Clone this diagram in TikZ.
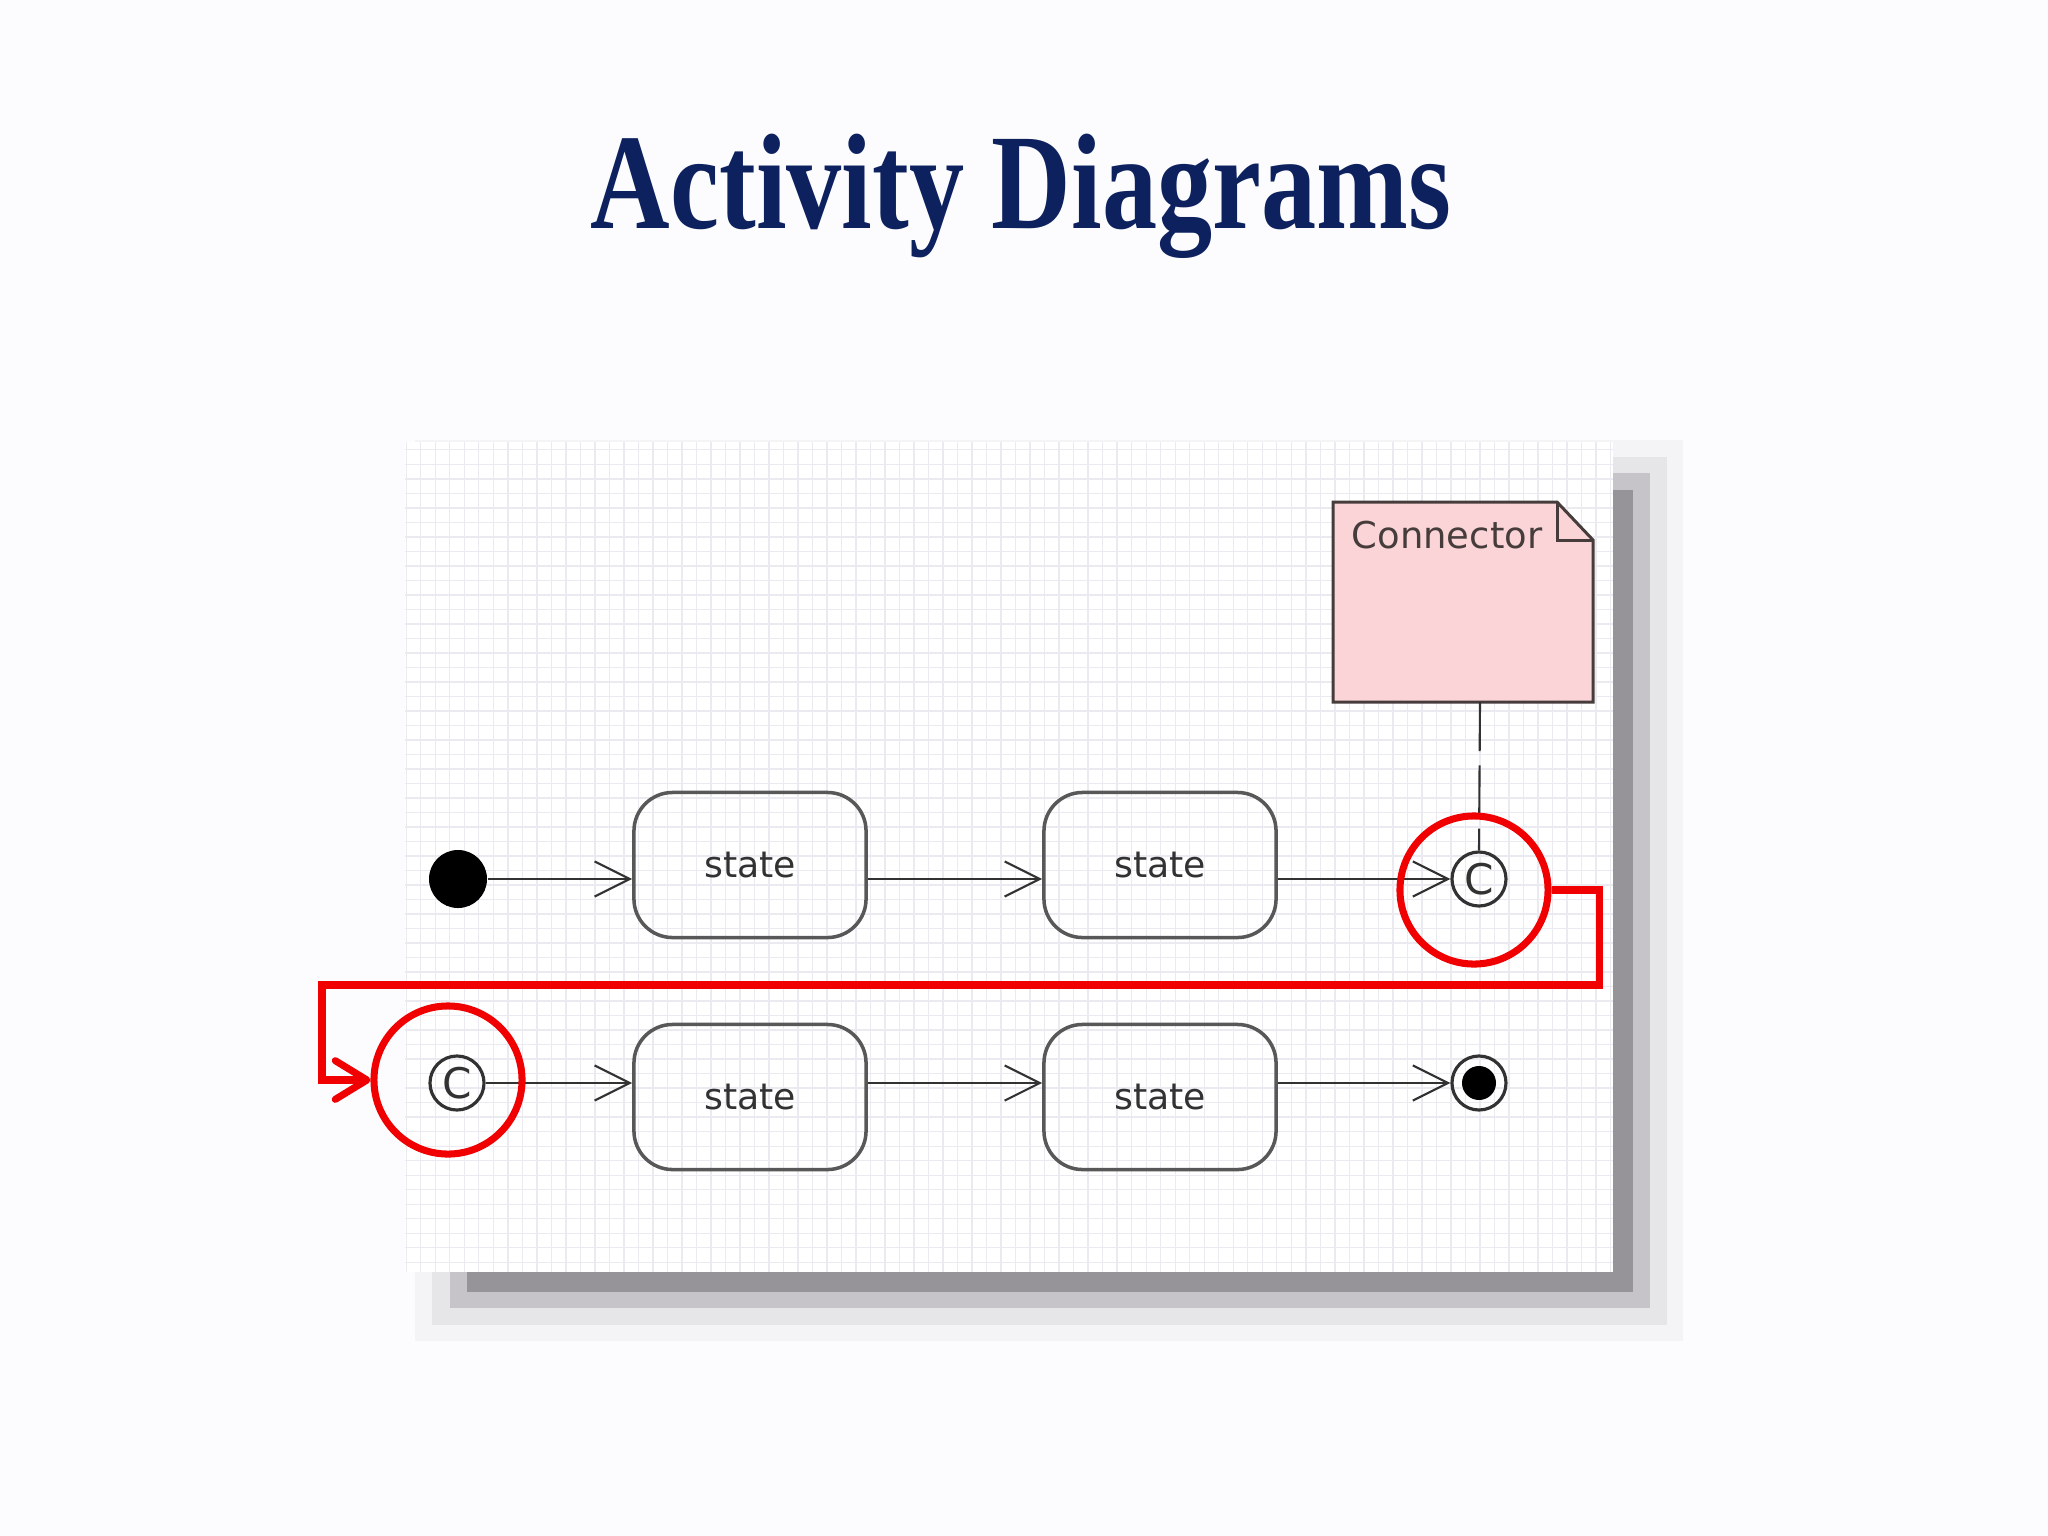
\documentclass[tikz,border=0pt]{standalone}
\usepackage{fontspec}
\usepackage{graphicx}
\setmainfont{Liberation Serif}
\newfontfamily\umlfont{DejaVu Sans}
\usetikzlibrary{arrows.meta}

\definecolor{navy}{RGB}{12,33,94}
\definecolor{ink}{RGB}{50,50,50}
\definecolor{boxline}{RGB}{88,88,88}
\definecolor{notepink}{RGB}{250,212,214}
\definecolor{noteline}{RGB}{70,60,60}
\definecolor{hlred}{RGB}{240,0,0}
\definecolor{gridc}{RGB}{234,234,240}
\definecolor{slide}{RGB}{252,251,253}

\begin{document}
\begin{tikzpicture}[x=0.01cm, y=-0.01cm,
    statebox/.style={draw=boxline, line width=1pt, rounded corners=11pt, minimum width=2.32cm, minimum height=1.45cm, inner sep=0pt, font=\umlfont\fontsize{10.3}{12}\selectfont, text=ink},
    flow/.style={draw=ink, line width=0.6pt, -{Straight Barb[length=10pt,width=10pt]}},
    pseudo/.style={circle, draw=ink, line width=0.9pt, minimum size=0.54cm, inner sep=0pt, font=\umlfont\fontsize{12}{12}\selectfont, text=ink},
    hilite/.style={circle, draw=hlred, line width=2pt, minimum size=1.47cm, inner sep=0pt},
    redpath/.style={draw=hlred, line width=2pt, -{Straight Barb[length=9pt,width=11pt,round]}}]

    % page
    \useasboundingbox (0,0) rectangle (2048,1536);
    \fill [slide] (0,0) rectangle (2048,1536);

    \node [font=\bfseries\fontsize{38.7}{40}\selectfont, text=navy, anchor=base] (title) at (1021,228) {\scalebox{0.81}[1]{Activity Diagrams}};

    % drop shadow of the panel
    \fill [color={rgb,255:red,244;green,243;blue,245}] (415,440) rectangle (1683,1341);
    \fill [color={rgb,255:red,230;green,229;blue,231}] (432,457) rectangle (1667,1325);
    \fill [color={rgb,255:red,198;green,196;blue,200}] (450,473) rectangle (1650,1308);
    \fill [color={rgb,255:red,150;green,148;blue,152}] (467,490) rectangle (1633,1292);

    % panel with grid
    \fill [white] (405,442) rectangle (1613,1272);
    \begin{scope}
        \clip (405,442) rectangle (1613,1272);
        \draw [gridc, line width=0.4pt, step=0.145cm] (405,442) grid (1613,1272);
    \end{scope}

    % note
    \draw [fill=notepink, draw=noteline, line width=0.85pt] (1333,502) -- (1557,502) -- (1593,540) -- (1593,702) -- (1333,702) -- cycle;
    \draw [draw=noteline, line width=0.85pt] (1557,502) -- (1557,540) -- (1593,540);
    \node [font=\umlfont\fontsize{10.5}{12}\selectfont, text=noteline, anchor=base] (notetext) at (1447,548) {Connector};
    \coordinate (notefoot) at (1480,702);

    % top row
    \node [circle, fill=black, minimum size=0.58cm, inner sep=0pt] (init) at (458,879) {};
    \node [statebox] (s1) at (750,865) {state};
    \node [statebox] (s2) at (1160,865) {state};
    \node [pseudo] (c1) at (1479,879) {C};

    \draw [flow] (init) -- (init -| s1.west);
    \draw [flow] (init -| s1.east) -- (init -| s2.west);
    \draw [flow] (init -| s2.east) -- (c1);
    \draw [ink, line width=0.6pt, dash pattern=on 14pt off 4pt] (notefoot) -- (c1.north);

    % bottom row
    \node [pseudo] (c2) at (457,1083) {C};
    \node [statebox] (s3) at (750,1097) {state};
    \node [statebox] (s4) at (1160,1097) {state};
    \node [circle, draw=ink, line width=0.9pt, minimum size=0.54cm, inner sep=0pt] (final) at (1479,1083) {};
    \fill [black] (final) circle (17);

    \draw [flow] (c2) -- (c2 -| s3.west);
    \draw [flow] (c2 -| s3.east) -- (c2 -| s4.west);
    \draw [flow] (c2 -| s4.east) -- (final);

    % red highlights
    \node [hilite, minimum height=1.48cm] (h1) at (1474,890) {};
    \node [hilite, minimum height=1.48cm] (h2) at (448,1080) {};
    \coordinate (rr) at (1599,985);
    \coordinate (rl) at (322,985);
    \draw [redpath] (h1.east) -| (rr) -- (rl) |- (h2.west);

\end{tikzpicture}
\end{document}
